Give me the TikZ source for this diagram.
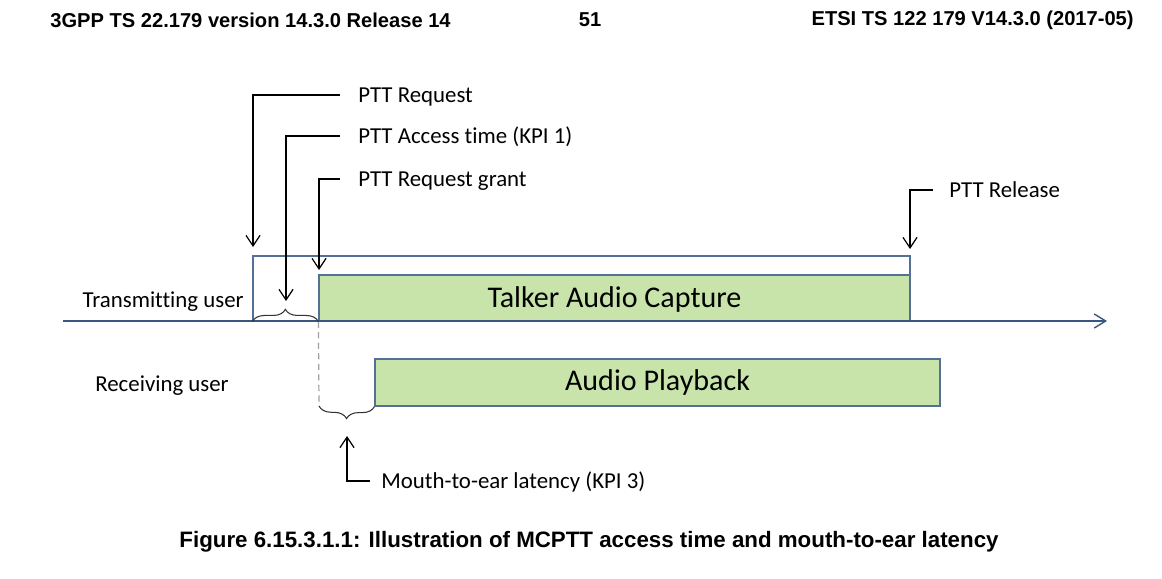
\documentclass[tikz,border=0pt]{standalone}
\usepackage{fontspec}
\setmainfont{Carlito}[Ligatures={NoCommon,NoRare,NoContextual}]
\newfontfamily\arialfont{Liberation Sans}
\usetikzlibrary{arrows.meta,decorations.pathreplacing,fit,calc}
\definecolor{boxgreen}{RGB}{200,228,170}
\definecolor{boxedge}{RGB}{84,112,150}
\definecolor{axisblue}{RGB}{60,86,130}
\definecolor{dashgray}{RGB}{160,160,160}
\tikzset{
  lbl/.style={font=\fontsize{13}{15}\selectfont, inner sep=0pt, text height=8.4pt, text depth=0pt, anchor=west},
  bigtxt/.style={font=\fontsize{17.1}{20}\selectfont, inner sep=0pt},
  hdr/.style={font=\arialfont\bfseries\fontsize{11.45}{13}\selectfont, inner sep=0pt},
  captxt/.style={font=\arialfont\bfseries\fontsize{12.7}{14}\selectfont, inner sep=0pt},
  outerbox/.style={draw=boxedge, line width=0.7pt, fill=white, inner sep=0pt},
  greenbox/.style={draw=boxedge, line width=0.7pt, fill=boxgreen, inner sep=0pt},
  axisline/.style={draw=axisblue, line width=0.8pt, -{Straight Barb[length=6.5pt,width=8pt]}},
  arr/.style={draw=black, line width=0.7pt, -{Straight Barb[length=6pt,width=8pt]}},
  dashln/.style={draw=dashgray, line width=0.7pt, dash pattern=on 3.5pt off 2.5pt},
  brc/.style={draw=black!80, line width=0.6pt, decorate, decoration={brace, amplitude=7pt}},
}
\begin{document}
\begin{tikzpicture}[x=0.02cm,y=-0.02cm]
\useasboundingbox (0,0) rectangle (1162,578);
% header
\node[hdr, anchor=west] (h1) at (50,20) {3GPP TS 22.179 version 14.3.0 Release 14};
\node[hdr] (h2) at (590,20) {51};
\node[hdr, anchor=east] (h3) at (1134,20) {ETSI TS 122 179 V14.3.0 (2017-05)};
% boxes
\coordinate (pA) at (253,256);
\coordinate (pB) at (910,321);
\node[outerbox, fit=(pA)(pB)] (press) {};
\coordinate (tA) at (319,275);
\node[greenbox, fit=(tA)(pB)] (talk) {};
\node[bigtxt] (talktxt) at ([yshift=-1pt]talk.center) {Talker Audio Capture};
\coordinate (qA) at (375,359);
\coordinate (qB) at (940,406);
\node[greenbox, fit=(qA)(qB)] (play) {};
\node[bigtxt] (playtxt) at (play.center) {Audio Playback};
% axis
\coordinate (ax0) at (63,321);
\coordinate (ax1) at (1107,321);
\draw[axisline] (ax0) -- (ax1);
% user labels
\node[lbl, anchor=east] (tx) at (244,300) {Transmitting user};
\node[lbl] (rx) at (95,384) {Receiving user};
% dashed line and braces
\coordinate (dashend) at (319,406);
\draw[dashln] (talk.south west) -- (dashend);
\draw[brc] (press.south west) -- (talk.south west);
\draw[brc] (play.south west) -- (dashend);
% labels with arrows
\node[lbl] (req) at (358,95) {PTT Request};
\coordinate (reqT) at (253,247);
\draw[arr, shorten <=10pt] (req.west) -| (reqT);
\node[lbl] (acc) at (358,136) {PTT Access time (KPI 1)};
\coordinate (accT) at (286,301);
\draw[arr, shorten <=10pt] (acc.west) -| (accT);
\node[lbl] (grant) at (358,179) {PTT Request grant};
\coordinate (grantT) at (319,270);
\draw[arr, shorten <=10pt] (grant.west) -| (grantT);
\node[lbl] (rel) at (949,190) {PTT Release};
\coordinate (relT) at (910,249);
\draw[arr, shorten <=9pt] (rel.west) -| (relT);
\node[lbl] (m2e) at (381,481) {Mouth-to-ear latency (KPI 3)};
\coordinate (m2eT) at (347,436);
\draw[arr, shorten <=6pt] (m2e.west) -| (m2eT);
% caption
\node[captxt] (cap) at (589,542) {Figure 6.15.3.1.1: Illustration of MCPTT access time and mouth-to-ear latency};
\end{tikzpicture}
\end{document}
